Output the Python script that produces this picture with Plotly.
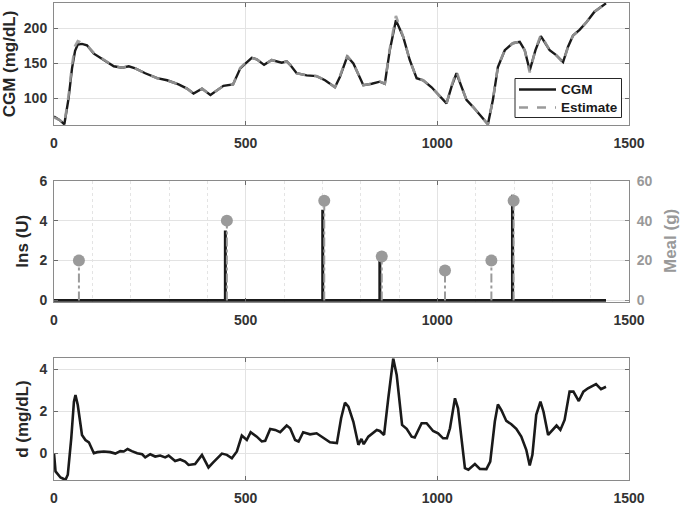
import plotly.graph_objects as go

# ---------------- data ----------------
cgm_t = [0, 15, 27, 38, 47, 55, 62, 73, 86, 104, 130, 156, 178, 195, 212, 238, 269, 295, 325, 347,
         364, 386, 408, 425, 442, 467, 486, 500, 516, 529, 548, 568, 585, 594, 607, 616, 633, 659, 685, 707,
         733, 746, 765, 781, 807, 829, 850, 863, 876, 892, 911, 928, 946, 963, 985, 1005, 1024, 1037, 1050, 1063,
         1076, 1093, 1115, 1132, 1145, 1158, 1176, 1197, 1215, 1228, 1241, 1256, 1270, 1280, 1293, 1310, 1328, 1341, 1354, 1371,
         1389, 1410, 1440]
cgm = [74, 69, 63, 100, 143, 168, 177, 178, 176, 164, 155, 146, 144, 146, 143, 136, 129, 126, 120, 114,
       107, 114, 105, 111, 118, 120, 143, 150, 158, 156, 148, 155, 153, 151, 153, 148, 136, 133, 132, 126,
       116, 131, 160, 150, 119, 121, 124, 121, 169, 212, 188, 155, 129, 126, 116, 104, 93, 117, 136, 117,
       98, 88, 74, 63, 98, 145, 169, 179, 181, 169, 140, 169, 189, 181, 169, 162, 152, 174, 190, 198,
       209, 224, 236]
est = [73, 69, 64, 104, 148, 175, 182, 179, 176, 165, 155, 146, 144, 146, 143, 136, 129, 126, 120, 114,
       107, 114, 105, 111, 118, 120, 144, 151, 158, 156, 148, 155, 153, 151, 153, 148, 136, 133, 132, 126,
       116, 132, 161, 150, 119, 121, 124, 121, 171, 218, 188, 155, 129, 126, 116, 104, 93, 118, 139, 117,
       98, 88, 74, 63, 99, 146, 169, 179, 181, 169, 137, 170, 191, 181, 169, 162, 151, 174, 190, 198,
       209, 224, 236]

ins_t = [447, 701, 850, 1196]
ins_u = [3.5, 4.55, 2.0, 5.3]
meal_t = [65, 451, 705, 855, 1020, 1141, 1199]
meal_g = [20, 40, 50, 22, 15, 20, 50]
day_end = 1440

d_t = [0, 4, 17, 30, 36, 45, 52, 56, 62, 73, 82, 91, 104, 113, 130, 147, 160, 173, 182, 192,
       203, 217, 230, 238, 251, 264, 277, 290, 299, 316, 329, 342, 351, 368, 386, 403, 416, 438, 451, 464,
       477, 490, 503, 513, 529, 542, 551, 564, 577, 590, 607, 616, 629, 638, 650, 668, 685, 703, 720, 738,
       749, 759, 768, 781, 794, 802, 808, 820, 842, 850, 861, 872, 885, 894, 908, 920, 933, 941, 959, 972,
       989, 1002, 1015, 1025, 1033, 1046, 1054, 1063, 1072, 1081, 1098, 1111, 1128, 1138, 1150, 1158, 1167, 1180, 1193, 1206,
       1219, 1232, 1241, 1248, 1258, 1269, 1277, 1289, 1302, 1311, 1321, 1332, 1345, 1355, 1369, 1381, 1393, 1406, 1414, 1427,
       1440]
d = [0, -0.87, -1.16, -1.27, -1.03, 0.71, 2.46, 2.78, 2.3, 0.87, 0.63, 0.52, 0.0, 0.05, 0.08, 0.05, -0.02, 0.1, 0.08, 0.2,
     0.1, 0.0, -0.05, -0.2, -0.05, -0.16, -0.11, -0.2, -0.11, -0.37, -0.3, -0.4, -0.56, -0.52, -0.08, -0.68, -0.43, -0.02, -0.08, -0.24,
     0.08, 0.84, 0.63, 1.0, 0.79, 0.56, 0.59, 1.16, 1.11, 1.0, 1.32, 1.19, 0.63, 0.56, 1.0, 0.9, 0.95, 0.75, 0.52, 0.48,
     1.67, 2.41, 2.22, 1.5, 0.4, 0.68, 0.43, 0.79, 1.11, 1.06, 0.87, 2.62, 4.52, 3.73, 1.35, 1.16, 0.79, 0.75, 1.43, 1.43,
     1.06, 0.95, 0.71, 0.71, 1.19, 2.62, 2.14, 0.71, -0.71, -0.79, -0.52, -0.75, -0.76, -0.4, 1.51, 2.33, 2.06, 1.54, 1.38, 1.16,
     0.79, 0.16, -0.59, -0.08, 1.83, 2.46, 1.98, 0.87, 1.11, 1.32, 1.11, 1.59, 2.94, 2.94, 2.49, 2.94, 3.1, 3.25, 3.3, 3.06,
     3.17]

x_ticks = [0, 500, 1000, 1500]
legend_labels = ["CGM", "Estimate"]

# ---------------- figure ----------------
BLACK = "#1a1a1a"
GRAY = "#9a9a9a"
FONT = "Liberation Sans, Arial, sans-serif"
W, H = 680, 505
ML, MR = 54, 51
PW = W - ML - MR


def stems(ts, vs):
    xs, ys = [], []
    for t, v in zip(ts, vs):
        xs += [t, t, None]
        ys += [0, v, None]
    return xs, ys


def px(x):
    return (x - ML) / PW


def py(y):
    return 1 - y / H


def dom(top, bot):
    return [1 - bot / H, 1 - top / H]


fig = go.Figure()

# panel 1
fig.add_trace(go.Scatter(x=cgm_t, y=cgm, mode="lines", name=legend_labels[0], showlegend=False,
                         line=dict(color=BLACK, width=2.4), xaxis="x", yaxis="y"))
fig.add_trace(go.Scatter(x=cgm_t, y=est, mode="lines", name=legend_labels[1], showlegend=False,
                         line=dict(color=GRAY, width=2.6, dash="dash"), opacity=0.9, xaxis="x", yaxis="y"))

# panel 2
fig.add_trace(go.Scatter(x=[0, day_end], y=[0, 0], mode="lines", showlegend=False,
                         line=dict(color=BLACK, width=3), xaxis="x2", yaxis="y2"))
sx, sy = stems(ins_t, ins_u)
fig.add_trace(go.Scatter(x=sx, y=sy, mode="lines", showlegend=False,
                         line=dict(color=BLACK, width=3), xaxis="x2", yaxis="y2"))
mx, my = stems(meal_t, meal_g)
fig.add_trace(go.Scatter(x=mx, y=my, mode="lines", showlegend=False,
                         line=dict(color=GRAY, width=2, dash="dashdot"), xaxis="x2", yaxis="y3"))
fig.add_trace(go.Scatter(x=meal_t, y=meal_g, mode="markers", showlegend=False,
                         marker=dict(color=GRAY, size=12), xaxis="x2", yaxis="y3"))

# panel 3
fig.add_trace(go.Scatter(x=d_t, y=d, mode="lines", showlegend=False,
                         line=dict(color=BLACK, width=2.6), xaxis="x3", yaxis="y4"))

tickfont = dict(family=FONT, size=14, color="#333333", weight="bold")
titlefont = dict(family=FONT, size=17, color="#262626")

common_x = dict(range=[0, 1500], tickvals=x_ticks, showgrid=True, gridcolor="#e3e3e3", gridwidth=1,
                showline=True, linecolor="#8a8a8a", linewidth=1, mirror="ticks", ticks="inside",
                ticklen=4, tickcolor="#6a6a6a", zeroline=False, tickfont=tickfont, domain=[0, 1],
                ticklabelstandoff=5)
common_y = dict(showgrid=True, gridcolor="#e3e3e3", showline=True, linecolor="#8a8a8a", linewidth=1,
                mirror="ticks", ticks="inside", ticklen=4, tickcolor="#6a6a6a", zeroline=False,
                tickfont=tickfont, ticklabelstandoff=3)

# manual legend box (panel 1, lower right)
box_l, box_r, box_t, box_b = 515, 621.5, 78.5, 117.5
row_y = [89.5, 107.5]
shapes = [dict(type="rect", xref="paper", yref="paper", x0=px(box_l), x1=px(box_r), y0=py(box_b), y1=py(box_t),
               line=dict(color="#262626", width=1), fillcolor="white", layer="above")]
styles = [dict(color=BLACK, width=2.6), dict(color=GRAY, width=2.6, dash="dash")]
annotations = []
for lab, yy, st in zip(legend_labels, row_y, styles):
    shapes.append(dict(type="line", xref="paper", yref="paper", x0=px(519), x1=px(556), y0=py(yy), y1=py(yy),
                       line=st, layer="above"))
    annotations.append(dict(text="<b>" + lab + "</b>", xref="paper", yref="paper", x=px(558.5), y=py(yy),
                            xanchor="left", yanchor="middle", showarrow=False,
                            font=dict(family=FONT, size=13.5, color="#1a1a1a")))

# right-hand axis title (Meal)
annotations.append(dict(text="<b>Meal (g)</b>", xref="paper", yref="paper", x=px(670), y=py(241),
                        xanchor="center", yanchor="middle", textangle=-90, showarrow=False,
                        font=dict(family=FONT, size=17, color="#999999")))

fig.update_layout(
    width=W, height=H,
    margin=dict(l=ML, r=MR, t=0, b=0, autoexpand=False),
    paper_bgcolor="white", plot_bgcolor="white",
    font=dict(family=FONT, color="#262626"),
    showlegend=False,
    shapes=shapes, annotations=annotations,
    xaxis=dict(common_x, anchor="y"),
    yaxis=dict(common_y, anchor="x", domain=dom(3, 125), range=[62, 236.5], tickvals=[100, 150, 200],
               title=dict(text="<b>CGM (mg/dL)</b>", font=titlefont, standoff=6)),
    xaxis2=dict(common_x, anchor="y2",
                minor=dict(dtick=100, showgrid=True, gridcolor="#e4e4e4", griddash="dot", ticks="")),
    yaxis2=dict(common_y, anchor="x2", domain=dom(180.7, 301.7), range=[-0.06, 6], tickvals=[0, 2, 4, 6],
                mirror=False,
                title=dict(text="<b>Ins (U)</b>", font=titlefont, standoff=6)),
    yaxis3=dict(overlaying="y2", side="right", anchor="x2", range=[-0.6, 60], tickvals=[0, 20, 40, 60],
                showgrid=False, showline=True, linecolor="#8a8a8a", ticks="inside", ticklen=4,
                tickcolor="#8a8a8a", zeroline=False, ticklabelstandoff=4,
                tickfont=dict(family=FONT, size=14, color="#999999", weight="bold")),
    xaxis3=dict(common_x, anchor="y4"),
    yaxis4=dict(common_y, anchor="x3", domain=dom(358.3, 480), range=[-1.28, 4.53], tickvals=[0, 2, 4],
                title=dict(text="<b>d (mg/dL)</b>", font=titlefont, standoff=6)),
)

fig.write_html("out.html", config={"displayModeBar": False},
               post_script="document.body.style.margin='0';document.body.style.overflow='hidden';")
